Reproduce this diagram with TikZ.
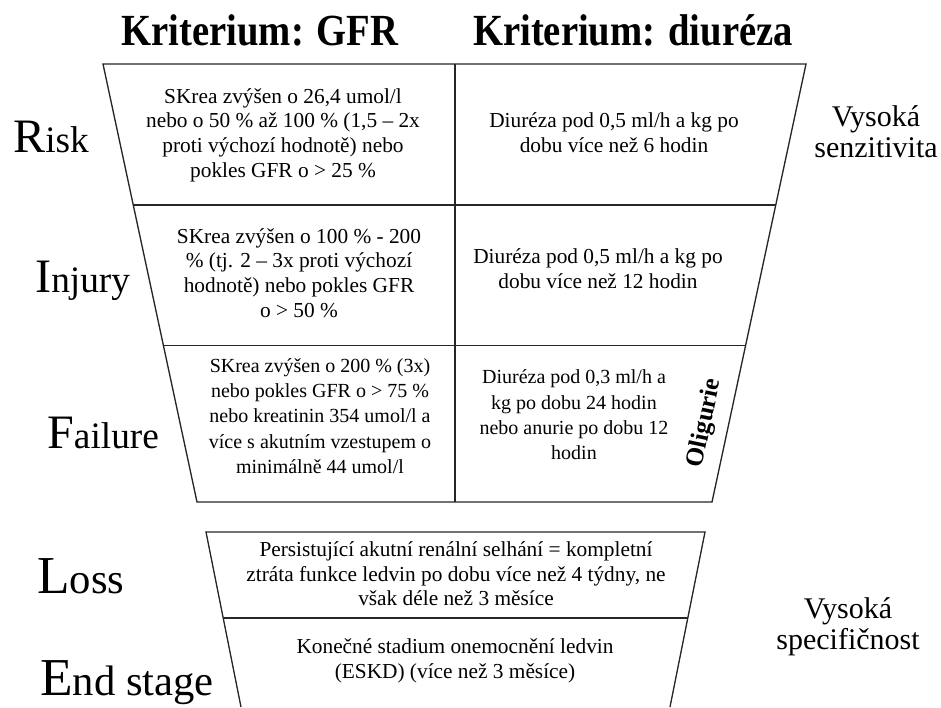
\documentclass[tikz,border=0pt]{standalone}
\usepackage{fontspec}
\setmainfont{Liberation Serif}
\usepackage{tikz}
\usetikzlibrary{calc}

\newcommand{\bigfirst}[2]{{\fontsize{36}{36}\selectfont #1}{\fontsize{28}{28}\selectfont #2}}
\newcommand{\biggerfirst}[2]{{\fontsize{40}{40}\selectfont #1}{\fontsize{32}{32}\selectfont #2}}

\begin{document}
\begin{tikzpicture}[x=0.75pt, y=-0.75pt,
    frame/.style={line width=1pt, black!85},
    cell/.style={align=center, inner sep=0pt, font=\fontsize{16}{18.5}\selectfont},
    small cell/.style={cell, font=\fontsize{15}{19}\selectfont},
    head/.style={inner sep=0pt, font=\fontsize{29}{29}\selectfont\bfseries},
    lvl/.style={anchor=base west, inner sep=0pt},
    side/.style={align=center, inner sep=0pt, font=\fontsize{22.5}{23}\selectfont}]

    \useasboundingbox (0,0) rectangle (941,707);

    % upper funnel: RIF
    \coordinate (tl) at (103,64);
    \coordinate (tr) at (806,64);
    \coordinate (bl) at (197,502);
    \coordinate (br) at (712,502);
    \coordinate (tm) at (455,64);
    \coordinate (bm) at (455,502);
    \draw[frame] (tl) -- (tr) -- (br) -- (bl) -- cycle;
    \draw[frame] (tm) -- (bm);
    \draw[frame] ($(tl)!0.322!(bl)$) -- ($(tr)!0.322!(br)$);
    \draw[frame] ($(tl)!0.642!(bl)$) -- ($(tr)!0.642!(br)$);

    % lower funnel: LE
    \coordinate (ltl) at (206,532);
    \coordinate (ltr) at (705,532);
    \coordinate (lbl) at (241,707);
    \coordinate (lbr) at (670,707);
    \draw[frame] (lbl) -- (ltl) -- (ltr) -- (lbr);
    \draw[frame] ($(ltl)!0.491!(lbl)$) -- ($(ltr)!0.491!(lbr)$);

    \node[head] (kgfr) at (260,30) {\scalebox{1}[1.15]{Kriterium: GFR}};
    \node[head] (kdiu) at (633,30) {\scalebox{1}[1.15]{Kriterium: diuréza}};

    \node[cell] (gfr1) at (283,135) {SKrea zvýšen o 26,4 umol/l\\nebo o 50 \% až 100 \% (1,5 – 2x\\proti výchozí hodnotě) nebo\\pokles GFR o > 25 \%};
    \node[cell] (diu1) at (614,133) {Diuréza pod 0,5 ml/h a kg po\\dobu více než 6 hodin};
    \node[cell] (gfr2) at (299,273) {SKrea zvýšen o 100 \% - 200\\\% (tj. 2 – 3x proti výchozí\\hodnotě) nebo pokles GFR\\o > 50 \%};
    \node[cell] (diu2) at (598,269) {Diuréza pod 0,5 ml/h a kg po\\dobu více než 12 hodin};
    \node[small cell] (gfr3) at (320,416) {SKrea zvýšen o 200 \% (3x)\\nebo pokles GFR o > 75 \%\\nebo kreatinin 354 umol/l a\\více s akutním vzestupem o\\minimálně 44 umol/l};
    \node[small cell] (diu3) at (574,415) {Diuréza pod 0,3 ml/h a\\kg po dobu 24 hodin\\nebo anurie po dobu 12\\hodin};
    \node[font=\fontsize{19}{19}\selectfont\bfseries, rotate=78, inner sep=0pt] (olig) at (705,423) {Oligurie};

    \node[cell] (loss1) at (456,574) {Persistující akutní renální selhání = kompletní\\ztráta funkce ledvin po dobu více než 4 týdny, ne\\však déle než 3 měsíce};
    \node[cell] (esrd1) at (455,661) {Konečné stadium onemocnění ledvin\\(ESKD) (více než 3 měsíce)};

    \node[lvl] (risk) at (13,152) {\bigfirst{R}{isk}};
    \node[lvl] (inj) at (35,292) {\bigfirst{I}{njury}};
    \node[lvl] (fail) at (47,448) {\bigfirst{F}{ailure}};
    \node[lvl] (loss) at (37,593) {\biggerfirst{L}{oss}};
    \node[lvl] (end) at (40,695) {\biggerfirst{E}{nd stage}};

    \node[side] (sens) at (876,132) {Vysoká\\senzitivita};
    \node[side] (spec) at (848,627) {Vysoká\\specifičnost};

\end{tikzpicture}
\end{document}
